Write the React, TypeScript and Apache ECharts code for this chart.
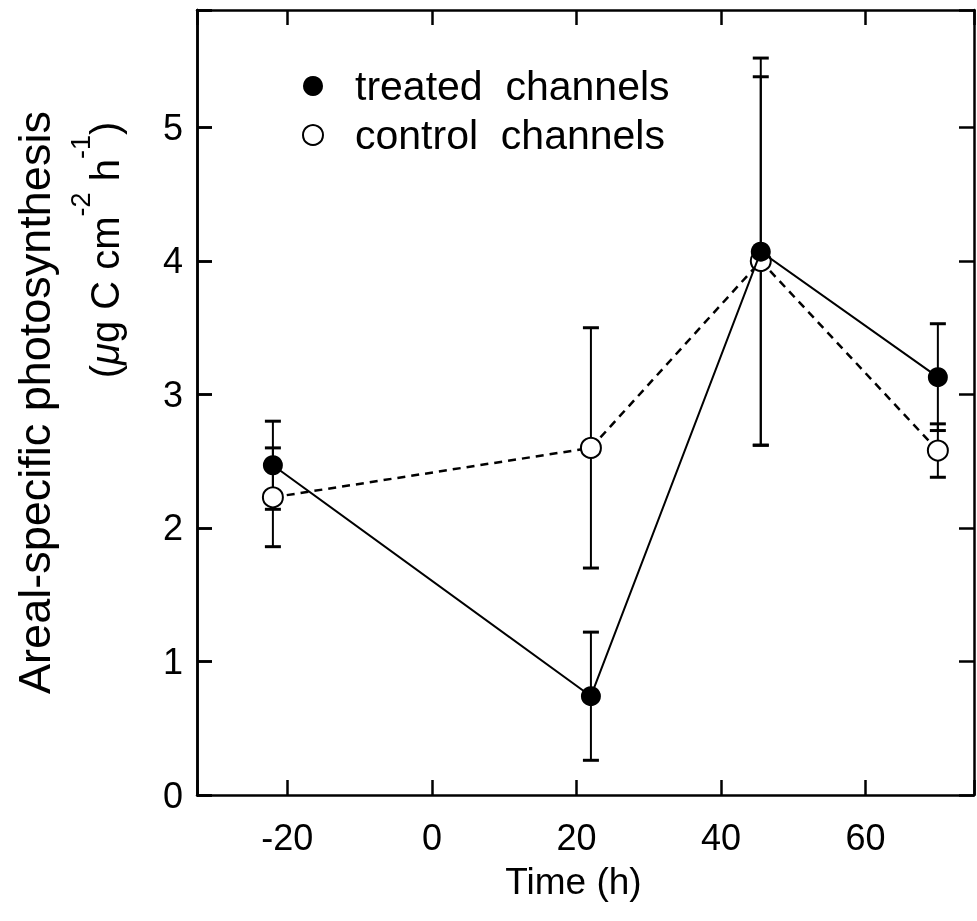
import React, { useEffect, useRef } from "react";
import * as echarts from "echarts";

const timeTreated = [-22, 22, 45.5, 70];
const treatedMean = [2.47, 0.74, 4.07, 3.13];
const treatedErr = [0.33, 0.48, 1.45, 0.4];

const timeControl = [-22, 22, 45.5, 70];
const controlMean = [2.23, 2.6, 4.0, 2.58];
const controlErr = [0.37, 0.9, 1.38, 0.2];

const xMin = -32.5;
const xMax = 75;
const yMin = 0;
const yMax = 5.88;

const TREATED = "treated  channels";
const CONTROL = "control  channels";
const FONT = "'Liberation Sans', Arial, Helvetica, sans-serif";

function errRender(params: any, api: any) {
  const x = api.value(0);
  const lo = api.value(1);
  const hi = api.value(2);
  const pTop = api.coord([x, hi]);
  const pBot = api.coord([x, lo]);
  const w = 8;
  const st = { stroke: "#000", lineWidth: 2 };
  return {
    type: "group",
    children: [
      { type: "line", shape: { x1: pTop[0], y1: pTop[1], x2: pBot[0], y2: pBot[1] }, style: st },
      { type: "line", shape: { x1: pTop[0] - w, y1: pTop[1], x2: pTop[0] + w, y2: pTop[1] }, style: { stroke: "#000", lineWidth: 3 } },
      { type: "line", shape: { x1: pBot[0] - w, y1: pBot[1], x2: pBot[0] + w, y2: pBot[1] }, style: { stroke: "#000", lineWidth: 3 } },
    ],
  };
}

const mkLine = () => ({ show: true, onZero: false, lineStyle: { color: "#000", width: 2.5 } });
const mkTick = () => ({ show: true, inside: true, length: 15, lineStyle: { color: "#000", width: 2.5 } });

export default function App() {
  const ref = useRef<HTMLDivElement>(null);
  useEffect(() => {
    if (!ref.current) return;
    const chart = echarts.init(ref.current, null, { renderer: "svg" });
    const treatedErrData = timeTreated.map((t, i) => [t, treatedMean[i] - treatedErr[i], treatedMean[i] + treatedErr[i]]);
    const controlErrData = timeControl.map((t, i) => [t, controlMean[i] - controlErr[i], controlMean[i] + controlErr[i]]);
    chart.setOption({
      animation: false,
      textStyle: { fontFamily: FONT },
      grid: { left: 197, right: 3, top: 10, bottom: 126, containLabel: false },
      legend: {
        left: 302,
        top: 64,
        padding: 0,
        orient: "vertical",
        icon: "circle",
        itemWidth: 74,
        itemHeight: 20,
        itemGap: 5,
        selectedMode: false,
        textStyle: { fontSize: 41, color: "#000", fontFamily: FONT, lineHeight: 44 },
        data: [
          { name: TREATED, itemStyle: { color: "#000", borderColor: "#000", borderWidth: 0 } },
          { name: CONTROL, itemStyle: { color: "#fff", borderColor: "#000", borderWidth: 2 } },
        ],
      },
      xAxis: [
        {
          type: "value",
          position: "bottom",
          min: xMin,
          max: xMax,
          splitNumber: 5,
          name: "Time (h)",
          nameLocation: "middle",
          nameGap: 68,
          nameTextStyle: { fontSize: 37, color: "#000", fontFamily: FONT, padding: [0, 24, 0, 0] },
          axisLine: mkLine(),
          axisTick: mkTick(),
          splitLine: { show: false },
          axisLabel: {
            fontSize: 36,
            color: "#000",
            margin: 24,
            fontFamily: FONT,
            formatter: (v: number) => (Math.abs(v % 20) < 1e-9 ? String(v) : ""),
          },
        },
        {
          type: "value",
          position: "top",
          min: xMin,
          max: xMax,
          splitNumber: 5,
          axisLine: mkLine(),
          axisTick: mkTick(),
          splitLine: { show: false },
          axisLabel: { show: false },
        },
      ],
      yAxis: [
        {
          type: "value",
          position: "left",
          min: yMin,
          max: yMax,
          interval: 1,
          name: "Areal-specific photosynthesis",
          nameLocation: "middle",
          nameGap: 140,
          nameTextStyle: { fontSize: 45, color: "#000", fontFamily: FONT },
          axisLine: mkLine(),
          axisTick: mkTick(),
          splitLine: { show: false },
          axisLabel: {
            fontSize: 36,
            color: "#000",
            margin: 14,
            fontFamily: FONT,
            formatter: (v: number) => (Math.abs(v - Math.round(v)) < 1e-9 ? String(v) : ""),
          },
        },
        {
          type: "value",
          position: "right",
          min: yMin,
          max: yMax,
          interval: 1,
          axisLine: mkLine(),
          axisTick: mkTick(),
          splitLine: { show: false },
          axisLabel: { show: false },
        },
        {
          type: "value",
          position: "left",
          offset: 0,
          min: yMin,
          max: yMax,
          interval: 1,
          axisLine: mkLine(),
          axisTick: mkTick(),
          splitLine: { show: false },
          axisLabel: { show: false },
        },
      ],
      graphic: [
        {
          type: "text",
          x: 96,
          y: 250,
          rotation: Math.PI / 2,
          style: {
            text: "{n|(}{mu|μ}{n|g C cm}{s|-2}{n| h}{s|-1}{n|)}",
            align: "center",
            verticalAlign: "middle",
            fill: "#000",
            rich: {
              n: { fontSize: 40, fontFamily: FONT, lineHeight: 58, verticalAlign: "bottom", fill: "#000" },
              mu: { fontSize: 40, fontFamily: FONT, fontStyle: "italic", lineHeight: 58, verticalAlign: "bottom", fill: "#000" },
              s: { fontSize: 27, fontFamily: FONT, lineHeight: 27, verticalAlign: "top", fill: "#000" },
            },
          },
        },
      ],
      series: [
        {
          type: "custom",
          name: "treated error",
          renderItem: errRender,
          data: treatedErrData,
          encode: { x: 0, y: [1, 2] },
          z: 1,
          silent: true,
        },
        {
          type: "custom",
          name: "control error",
          renderItem: errRender,
          data: controlErrData,
          encode: { x: 0, y: [1, 2] },
          z: 1,
          silent: true,
        },
        {
          type: "line",
          name: CONTROL,
          data: timeControl.map((t, i) => [t, controlMean[i]]),
          symbol: "circle",
          symbolSize: 20,
          lineStyle: { color: "#000", width: 2.5, type: [8, 6] },
          itemStyle: { color: "#fff", borderColor: "#000", borderWidth: 2 },
          z: 2,
        },
        {
          type: "line",
          name: TREATED,
          data: timeTreated.map((t, i) => [t, treatedMean[i]]),
          symbol: "circle",
          symbolSize: 20,
          lineStyle: { color: "#000", width: 2 },
          itemStyle: { color: "#000", borderColor: "#000", borderWidth: 0 },
          z: 3,
        },
      ],
    });
    return () => chart.dispose();
  }, []);
  return <div ref={ref} style={{ position: "fixed", left: 0, top: 0, width: 977, height: 921 }} />;
}
